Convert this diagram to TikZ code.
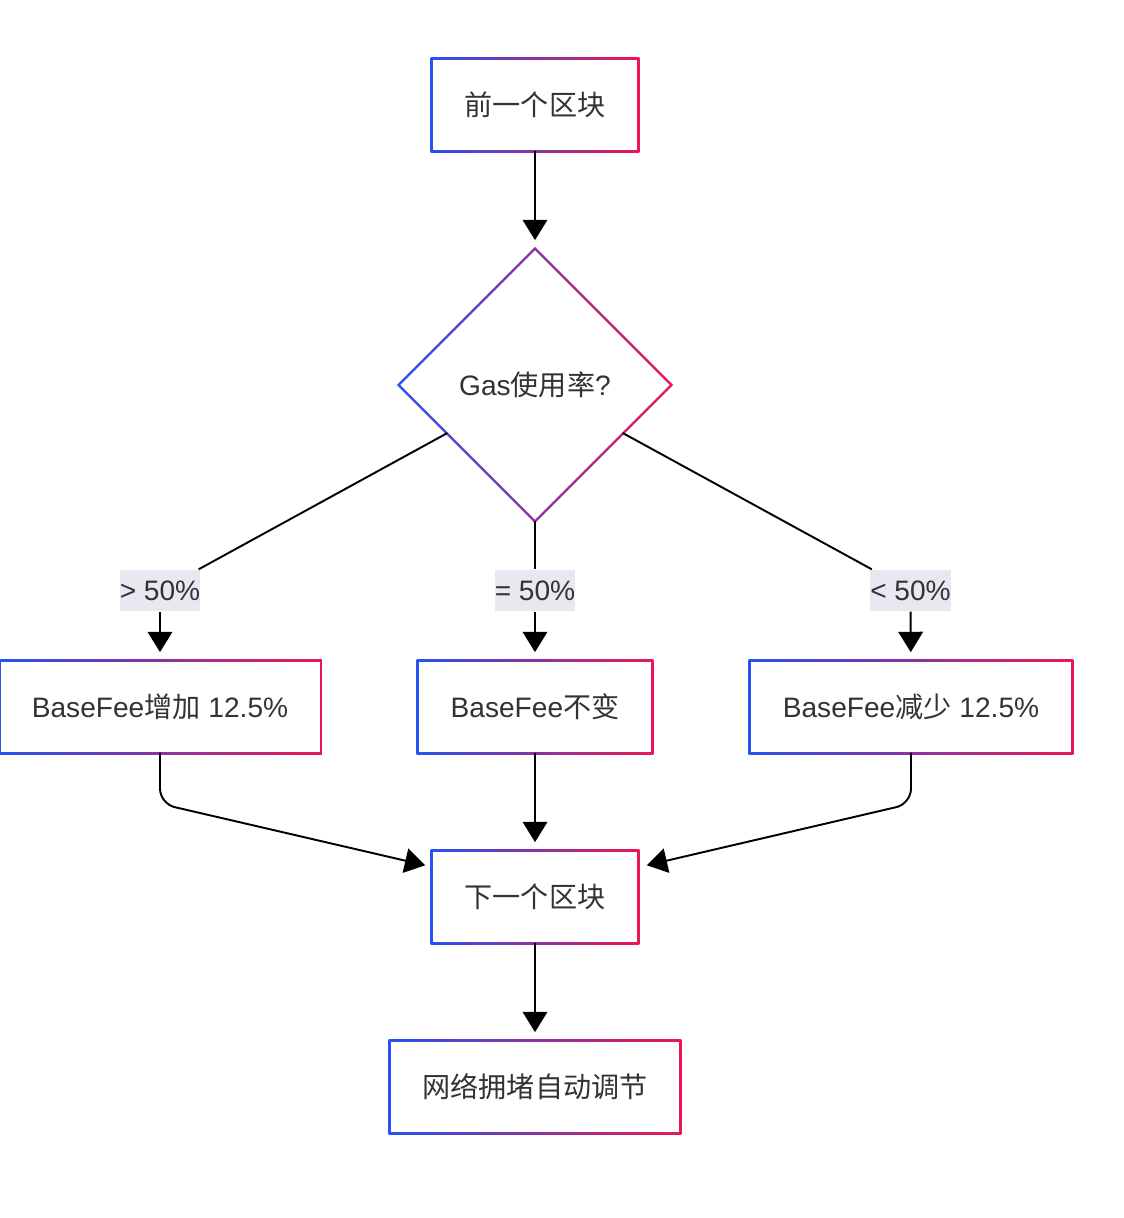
\documentclass[tikz,border=0pt]{standalone}
\usepackage{fontspec}
\setmainfont{Liberation Sans}
\newfontfamily\cjk{Noto Sans CJK SC}
\usetikzlibrary{arrows.meta,shapes.geometric,backgrounds}
\definecolor{gblue}{RGB}{40,82,240}
\definecolor{gred}{RGB}{236,22,82}
\definecolor{txt}{RGB}{51,51,51}
\definecolor{lblbg}{RGB}{232,232,240}
\tikzset{
  box/.style={rectangle, fill=white, minimum height=.9cm, inner sep=0pt, text=txt, font=\fontsize{8}{10}\selectfont},
  decide/.style={diamond, fill=white, minimum width=2.7cm, minimum height=2.7cm, inner sep=0pt, text=txt, font=\fontsize{8}{10}\selectfont},
  cond/.style={rectangle, fill=lblbg, inner xsep=0pt, inner ysep=0pt, minimum height=.41cm, text=txt, font=\fontsize{8}{10}\selectfont},
  link/.style={line width=.55pt, -{Triangle[length=5.8pt,width=7pt]}, shorten >=2.6pt},
  rim/.style={left color=gblue, right color=gred}
}

\begin{document}
\begin{tikzpicture}
  \useasboundingbox (0,0) rectangle (11.24,-12.18);
  % blocks
  \node[box, minimum width=2.04cm] (prev) at (5.35,-1.05) {\cjk 前一个区块};
  \node[decide] (gas) at (5.35,-3.85) {Gas{\cjk 使用率}?};
  \node[cond] (gt) at (1.6,-5.905) {> 50\%};
  \node[cond] (eq) at (5.35,-5.905) {= 50\%};
  \node[cond] (lt) at (9.105,-5.905) {< 50\%};
  \node[box, minimum width=3.19cm] (up) at (1.6,-7.07) {BaseFee{\cjk 增加} 12.5\%};
  \node[box, minimum width=2.32cm] (same) at (5.35,-7.07) {BaseFee{\cjk 不变}};
  \node[box, minimum width=3.2cm] (down) at (9.11,-7.07) {BaseFee{\cjk 减少} 12.5\%};
  \node[box, minimum width=2.04cm] (next) at (5.35,-8.97) {\cjk 下一个区块};
  \node[box, minimum width=2.88cm] (net) at (5.35,-10.87) {\cjk 网络拥堵自动调节};

  % connectors
  \draw[link] (prev) -- (gas);
  \draw[line width=.55pt] (gas) -- (gt);
  \draw[line width=.55pt] (gas) -- (eq);
  \draw[line width=.55pt] (gas) -- (lt);
  \draw[link] (gt) -- (up);
  \draw[link] (eq) -- (same);
  \draw[link] (lt) -- (down);
  \draw[link, shorten >=0pt, rounded corners=.15cm] (up.south) -- ([yshift=-.51cm]up.south) -- ([xshift=-.07cm,yshift=-.14cm]next.north west);
  \draw[link, shorten >=0pt, rounded corners=.15cm] (down.south) -- ([yshift=-.51cm]down.south) -- ([xshift=.09cm,yshift=-.14cm]next.north east);
  \draw[link] (same) -- (next);
  \draw[link] (next) -- (net);

  % gradient rims
  \begin{scope}[on background layer]
    \foreach \n in {prev,up,same,down,next,net}
      \shade[rim] ([shift={(-.5pt,-.5pt)}]\n.south west) rectangle ([shift={(.5pt,.5pt)}]\n.north east);
    \shade[rim] ([yshift=.7pt]gas.north) -- ([xshift=.7pt]gas.east) -- ([yshift=-.7pt]gas.south) -- ([xshift=-.7pt]gas.west) -- cycle;
  \end{scope}
\end{tikzpicture}
\end{document}
